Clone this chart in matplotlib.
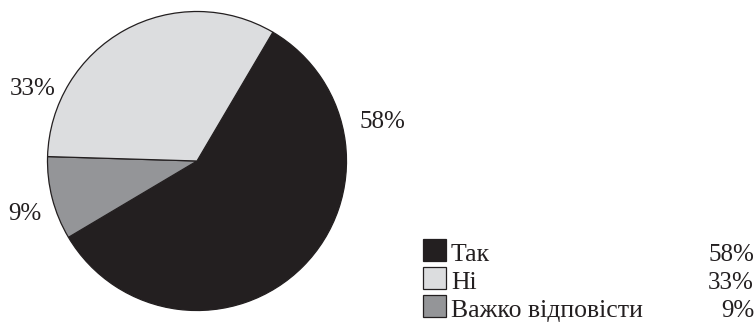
import matplotlib.pyplot as plt
from matplotlib.patches import Rectangle

# Survey answers and their shares (%)
answers = ['Так', 'Ні', 'Важко відповісти']
shares = [58, 33, 9]
colors = ['#231f20', '#dcdddf', '#949598']
pct_labels = ['58%', '33%', '9%']

plt.rcParams['font.family'] = ['Liberation Serif', 'DejaVu Serif']

W, H = 756, 322
fig = plt.figure(figsize=(W / 100, H / 100), dpi=100)

# pie: centre (197,161) px, radius 151 px; clockwise order Так, Важко, Ні
cx, cy, r = 197, 161, 151
order = [0, 2, 1]
ax = fig.add_axes([(cx - r) / W, (H - cy - r) / H, 2 * r / W, 2 * r / H])
ax.pie([shares[i] for i in order], colors=[colors[i] for i in order],
       startangle=59.5, counterclock=False, radius=1,
       wedgeprops=dict(edgecolor='#231f20', linewidth=0.9), frame=False)
ax.set_xlim(-1.01, 1.01)
ax.set_ylim(-1.01, 1.01)
ax.set_aspect('equal')
ax.axis('off')

# overlay in pixel coordinates for the labels and the legend
ov = fig.add_axes([0, 0, 1, 1])
ov.set_xlim(0, W)
ov.set_ylim(H, 0)
ov.axis('off')

fs = 18
# percent labels next to the pie
for txt, (x, y) in zip(pct_labels, [(382, 128), (32.5, 95), (25, 220)]):
    ov.text(x, y, txt, ha='center', va='baseline', fontsize=fs, color='#231f20')

# legend rows
for i, (name, col, pct) in enumerate(zip(answers, colors, pct_labels)):
    base = 261 + 28 * i
    ov.add_patch(Rectangle((423, base - 22.5), 23, 22.5, facecolor=col,
                           edgecolor='#231f20', linewidth=0.9))
    ov.text(451, base, name, ha='left', va='baseline', fontsize=fs + 0.5,
            color='#231f20')
    ov.text(754, base, pct, ha='right', va='baseline', fontsize=fs, color='#231f20')

fig.savefig('out.png', dpi=100)
